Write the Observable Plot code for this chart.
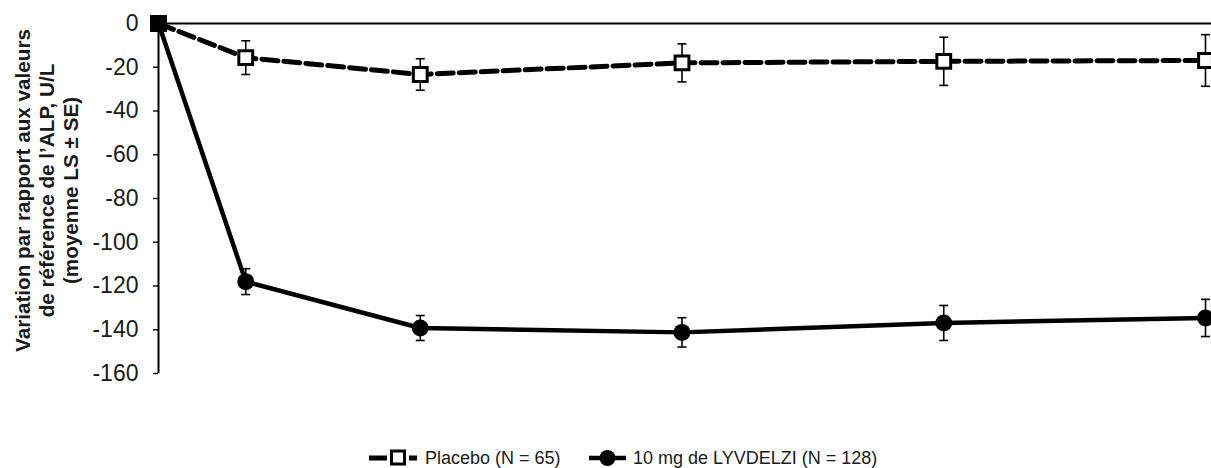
<!DOCTYPE html>
<html>
<head>
<meta charset="utf-8">
<script src="https://cdn.jsdelivr.net/npm/d3@7"></script>
<script src="https://cdn.jsdelivr.net/npm/@observablehq/plot@0.6"></script>
<style>
  html, body { margin: 0; padding: 0; background: #fff; }
  #wrap { position: relative; width: 1211px; height: 468px; overflow: hidden; font-family: "Liberation Sans", Arial, sans-serif; }
  #legend { position: absolute; top: 446px; left: 0; width: 1211px; height: 24px; }
  .item { position: absolute; top: 0; display: flex; align-items: center; height: 24px; font-size: 18px; color: #1a1a1a; }
  .item svg { margin-right: 6px; }
</style>
</head>
<body>
<div id="wrap">
  <div id="chart"></div>
  <div id="legend"></div>
</div>
<script>
// ---- data ----
const weeks = [0, 2, 6, 12, 18, 24];
const placeboMean = [0, -15.6, -23.3, -18.0, -17.3, -16.9];
const placeboSE   = [0, 7.7, 7.2, 8.7, 11.0, 11.8];
const lyvMean     = [0, -118.0, -139.2, -141.2, -136.9, -134.6];
const lyvSE       = [0, 5.9, 5.7, 6.7, 8.0, 8.5];
const seriesNames = ["Placebo (N = 65)", "10 mg de LYVDELZI (N = 128)"];
const yTicks = [0, -20, -40, -60, -80, -100, -120, -140, -160];
const yTitle = "Variation par rapport aux valeurs\nde référence de l’ALP, U/L\n(moyenne LS ± SE)";

const placebo = weeks.map((w, i) => ({week: w, mean: placeboMean[i], se: placeboSE[i]}));
const lyv = weeks.map((w, i) => ({week: w, mean: lyvMean[i], se: lyvSE[i]}));
const withErr = d => d.se > 0;

const capSymbol = {
  draw(ctx) { ctx.moveTo(-4.5, 0); ctx.lineTo(4.5, 0); }
};

const plot = Plot.plot({
  width: 1211,
  height: 440,
  marginLeft: 158,
  marginRight: 6,
  marginTop: 23,
  marginBottom: 67,
  style: {fontFamily: "Liberation Sans, Arial, sans-serif", fontSize: "23px", color: "#1a1a1a", background: "white", overflow: "visible"},
  x: {domain: [0, 24], axis: null},
  y: {domain: [-160, 0], axis: null},
  marks: [
    // y-axis ticks (labels drawn by a text mark below at the same scale positions)
    Plot.axisY(yTicks, {tickSize: 5, tickFormat: () => "", label: null, strokeWidth: 1.5}),
    Plot.text(yTicks, {y: d => d, text: d => String(d), frameAnchor: "left", textAnchor: "end", dx: -20, fontSize: 23, fill: "#1a1a1a"}),
    Plot.ruleY([0], {stroke: "black", strokeWidth: 2, insetRight: -10}),
    Plot.ruleX([0], {y1: -160, y2: 0, stroke: "black", strokeWidth: 2}),
    Plot.text([yTitle], {frameAnchor: "left", textAnchor: "middle", dx: -112, dy: -8, rotate: -90, fontSize: 20.7, fontWeight: "bold", lineHeight: 1.14, fill: "#1a1a1a"}),
    // lines
    Plot.line(lyv, {x: "week", y: "mean", stroke: "black", strokeWidth: 4.5}),
    Plot.line(placebo, {x: "week", y: "mean", stroke: "black", strokeWidth: 5, strokeDasharray: "16,6"}),
    // error bars
    Plot.ruleX(placebo.filter(withErr), {x: "week", y1: d => d.mean - d.se, y2: d => d.mean + d.se, stroke: "black", strokeWidth: 1.6}),
    Plot.dot(placebo.filter(withErr), {x: "week", y: d => d.mean - d.se, symbol: capSymbol, stroke: "black", strokeWidth: 1.6, fill: "none"}),
    Plot.dot(placebo.filter(withErr), {x: "week", y: d => d.mean + d.se, symbol: capSymbol, stroke: "black", strokeWidth: 1.6, fill: "none"}),
    Plot.ruleX(lyv.filter(withErr), {x: "week", y1: d => d.mean - d.se, y2: d => d.mean + d.se, stroke: "black", strokeWidth: 1.6}),
    Plot.dot(lyv.filter(withErr), {x: "week", y: d => d.mean - d.se, symbol: capSymbol, stroke: "black", strokeWidth: 1.6, fill: "none"}),
    Plot.dot(lyv.filter(withErr), {x: "week", y: d => d.mean + d.se, symbol: capSymbol, stroke: "black", strokeWidth: 1.6, fill: "none"}),
    // markers
    Plot.dot(lyv, {x: "week", y: "mean", r: 8.5, fill: "black", stroke: "none"}),
    Plot.dot(placebo, {x: "week", y: "mean", symbol: "square", r: 7.8, fill: d => d.week === 0 ? "black" : "white", stroke: "black", strokeWidth: 3})
  ]
});
document.getElementById("chart").appendChild(plot);

// ---- legend ----
const legend = document.getElementById("legend");
const item1 = document.createElement("div");
item1.className = "item";
item1.style.left = "369px";
item1.innerHTML = `<svg width="50" height="20" viewBox="0 0 50 20">
  <rect x="0" y="7.5" width="18" height="5" fill="black"/>
  <rect x="22.5" y="3" width="13" height="13" fill="white" stroke="black" stroke-width="3"/>
  <rect x="40" y="7.5" width="8" height="5" fill="black"/>
</svg><span>${seriesNames[0]}</span>`;
const item2 = document.createElement("div");
item2.className = "item";
item2.style.left = "589px";
item2.innerHTML = `<svg width="38" height="20" viewBox="0 0 38 20">
  <line x1="0" y1="10" x2="37" y2="10" stroke="black" stroke-width="4.5"/>
  <circle cx="18.5" cy="10" r="8" fill="black"/>
</svg><span>${seriesNames[1]}</span>`;
legend.appendChild(item1);
legend.appendChild(item2);
</script>
</body>
</html>
